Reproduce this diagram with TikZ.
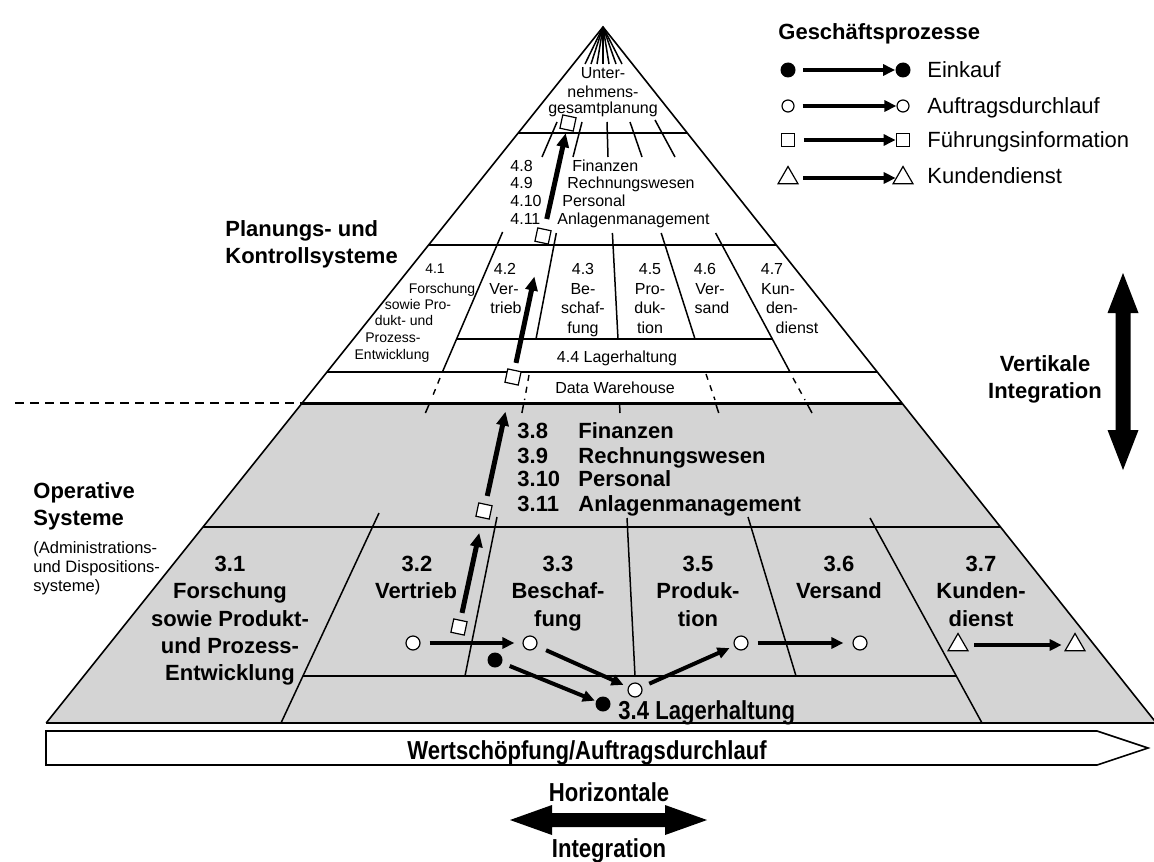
\documentclass[tikz,border=0pt]{standalone}
\usepackage{fontspec}
\setmainfont{Liberation Sans}
\newfontfamily\condbf[FakeStretch=0.85]{Liberation Sans}
\usetikzlibrary{arrows.meta,shapes.geometric}

\begin{document}
\begin{tikzpicture}[x=0.5pt,y=-0.5pt,
  ln/.style={line width=0.75pt},
  lbl/.style={font=\fontsize{11}{13}\selectfont\bfseries, inner sep=0pt, anchor=base},
  lblw/.style={lbl, anchor=base west},
  stxt/.style={font=\fontsize{8}{9}\selectfont, inner sep=0pt, anchor=base},
  stxtw/.style={stxt, anchor=base west},
  xtxt/.style={font=\fontsize{7}{8}\selectfont, inner sep=0pt, anchor=base},
  leg/.style={font=\fontsize{11}{13}\selectfont, inner sep=0pt, anchor=base west},
  ctxt/.style={font=\fontsize{13}{15}\condbf\bfseries, inner sep=0pt, anchor=base},
  opn/.style={circle, draw, fill=white, line width=0.6pt, minimum size=7pt, inner sep=0pt},
  ful/.style={circle, fill=black, minimum size=7.5pt, inner sep=0pt},
  sqr/.style={rectangle, draw, fill=white, line width=0.6pt, minimum size=6.8pt, inner sep=0pt},
  trg/.style={regular polygon, regular polygon sides=3, draw, fill=white, line width=0.6pt, minimum size=11.5pt, inner sep=0pt},
  pflow/.style={line width=2pt, -{Triangle[length=6pt,width=5.5pt]}},
  upflow/.style={line width=2.5pt, -{Triangle[length=7pt,width=6pt]}},
  dwdash/.style={line width=0.7pt, dash pattern=on 3pt off 3pt},
]
\useasboundingbox (0,0) rectangle (1154,861);
\fill[white] (0,0) rectangle (1154,861);

% ---------- pyramid body ----------
\coordinate (apex) at (603,27);
\coordinate (bl) at (46.2,723);
\coordinate (br) at (1156.3,723);

\begin{scope}
  \clip (apex) -- (bl) -- (br) -- cycle;
  \fill[black!17] (0,403) rectangle (1160,723);
  \draw[ln] (0,133) -- (1160,133);
  \draw[ln] (0,245) -- (1160,245);
  \draw[ln] (0,372) -- (1160,372);
  \draw[ln] (0,527) -- (1160,527);
  \draw[line width=1.5pt] (0,403) -- (1160,403);
\end{scope}
\draw[line width=0.8pt] (bl) -- (apex) -- (br);
\draw[line width=1pt] (bl) -- (br);

% boundary between planning and operative systems
\draw[line width=0.75pt, dash pattern=on 4.5pt off 3pt] (15,403) -- (302,403);

% fan at the apex
\foreach \x in {585,591,597,603,609,616,622}
  \draw[ln] (apex) -- (\x,64);

% strokes across the line below the corporate planning
\draw[ln] (557,122) -- (542,157);
\draw[ln] (582,122) -- (573,157);
\draw[ln] (607,122) -- (608,157);
\draw[ln] (630,122) -- (642,157);
\draw[ln] (655,120) -- (675,157);

% columns of the planning level
\draw[ln] (502.6,232) -- (442.4,372);
\draw[ln] (556.3,233) -- (536,339);
\draw[ln] (612.4,233) -- (618,339);
\draw[ln] (661.2,233) -- (695,339);
\draw[ln] (715.6,233) -- (790,372);
\draw[ln] (456.6,339) -- (772.3,339);

% column traces through the data warehouse
\draw[dwdash] (440,378) -- (431,400);
\draw[dwdash] (529,375) -- (524.5,400);
\draw[dwdash] (706,374) -- (715,400);
\draw[dwdash] (793,378) -- (805,400);
\draw[ln] (429.7,403) -- (425.4,413);
\draw[ln] (523.8,403) -- (521.9,413);
\draw[ln] (619.5,403) -- (620,413);
\draw[ln] (715.5,403) -- (718.7,413);
\draw[ln] (806.6,403) -- (812,413);

% columns of the operative level
\draw[ln] (379,513) -- (281,723);
\draw[ln] (497,517) -- (465,676);
\draw[ln] (627,518) -- (635,676);
\draw[ln] (748,517) -- (796,676);
\draw[ln] (870,518) -- (982,723);
\draw[ln] (303,676) -- (956.8,676);

% ---------- texts of the planning level ----------
\node[stxt] (u1) at (603,79) {Unter-};
\node[stxt] (u2) at (603,97.5) {nehmens-};
\node[stxt] (u3) at (603,114) {gesamtplanung};

\node[stxtw] (n48) at (510,171) {4.8};
\node[stxtw] (n49) at (510,189) {4.9};
\node[stxtw] (n410) at (510,206) {4.10};
\node[stxtw] (n411) at (510,224) {4.11};
\node[stxtw] (f48) at (572,171) {Finanzen};
\node[stxtw] (f49) at (567,189) {Rechnungswesen};
\node[stxtw] (f410) at (562,206) {Personal};
\node[stxtw] (f411) at (557,224) {Anlagenmanagement};

\node[xtxt] (a41) at (435,273) {4.1};
\node[xtxt] (b41) at (442,293) {Forschung};
\node[xtxt] (c41) at (418,309) {sowie Pro-};
\node[xtxt] (d41) at (404,325) {dukt- und};
\node[xtxt] (e41) at (393,342) {Prozess-};
\node[xtxt] (f41) at (392,359) {Entwicklung};

\node[stxt] (a42) at (505,274) {4.2};
\node[stxt] (b42) at (504,294) {Ver-};
\node[stxt] (c42) at (506,313.5) {trieb};

\node[stxt] (a43) at (583,274) {4.3};
\node[stxt] (b43) at (583,294) {Be-};
\node[stxt] (c43) at (583,313.5) {schaf-};
\node[stxt] (d43) at (583,333) {fung};

\node[stxt] (a45) at (650,274) {4.5};
\node[stxt] (b45) at (650,294) {Pro-};
\node[stxt] (c45) at (650,313.5) {duk-};
\node[stxt] (d45) at (650,333) {tion};

\node[stxt] (a46) at (705,274) {4.6};
\node[stxt] (b46) at (710,294) {Ver-};
\node[stxt] (c46) at (712,313.5) {sand};

\node[stxt] (a47) at (772,274) {4.7};
\node[stxt] (b47) at (778,294) {Kun-};
\node[stxt] (c47) at (782,313.5) {den-};
\node[stxt] (d47) at (797,333) {dienst};

\node[stxt] (lag4) at (617,362) {4.4 Lagerhaltung};
\node[stxt] (dwh) at (615,393) {Data Warehouse};

% ---------- texts of the operative level ----------
\node[lblw] (n38) at (517,438) {3.8};
\node[lblw] (n39) at (517,463) {3.9};
\node[lblw] (n310) at (517,486) {3.10};
\node[lblw] (n311) at (517,511) {3.11};
\node[lblw] (f38) at (578,438) {Finanzen};
\node[lblw] (f39) at (578,463) {Rechnungswesen};
\node[lblw] (f310) at (578,486) {Personal};
\node[lblw] (f311) at (578,511) {Anlagenmanagement};

\node[lbl] (a31) at (230,571) {3.1};
\node[lbl] (b31) at (230,598) {Forschung};
\node[lbl] (c31) at (230,626) {sowie Produkt-};
\node[lbl] (d31) at (230,653) {und Prozess-};
\node[lbl] (e31) at (230,680) {Entwicklung};

\node[lbl] (a32) at (417,571) {3.2};
\node[lbl] (b32) at (416,598) {Vertrieb};

\node[lbl] (a33) at (558,571) {3.3};
\node[lbl] (b33) at (558,598) {Beschaf-};
\node[lbl] (c33) at (558,626) {fung};

\node[lbl] (a35) at (698,571) {3.5};
\node[lbl] (b35) at (698,598) {Produk-};
\node[lbl] (c35) at (698,626) {tion};

\node[lbl] (a36) at (839,571) {3.6};
\node[lbl] (b36) at (839,598) {Versand};

\node[lbl] (a37) at (981,571) {3.7};
\node[lbl] (b37) at (981,598) {Kunden-};
\node[lbl] (c37) at (981,626) {dienst};

\node[ctxt, anchor=base west] (lag3) at (618,719) {3.4 Lagerhaltung};

% ---------- process flows ----------
\node[sqr, rotate=-12] (s1) at (459,627) {};
\node[sqr, rotate=-12] (s2) at (484,511) {};
\node[sqr, rotate=-12] (s3) at (513,377) {};
\node[sqr, rotate=-12] (s4) at (543,236) {};
\node[sqr, rotate=-12] (s5) at (568,123) {};
\draw[upflow, shorten <=3.5pt, shorten >=7.5pt] (s1) -- (s2);
\draw[upflow, shorten <=4pt, shorten >=14pt] (s2) -- (s3);
\draw[upflow, shorten <=3.5pt, shorten >=17pt] (s3) -- (s4);
\draw[upflow, shorten <=5pt, shorten >=1.5pt] (s4) -- (s5);

\node[opn] (c1) at (413,643) {};
\node[opn] (c2) at (530,643) {};
\node[opn] (c3) at (635,690) {};
\node[opn] (c4) at (741,643) {};
\node[opn] (c5) at (860,643) {};
\node[ful] (b1) at (495,660) {};
\node[ful] (b2) at (603,704) {};
\node[trg] (t1) at (958,645) {};
\node[trg] (t2) at (1075,645) {};

\draw[pflow, shorten <=4.5pt, shorten >=4pt] (c1) -- (c2);
\draw[pflow, shorten <=5pt, shorten >=2.5pt] (c2) -- (c3);
\draw[pflow, shorten <=4pt, shorten >=0.5pt] (b1) -- (b2);
\draw[pflow, shorten <=4pt, shorten >=2.5pt] (c3) -- (c4);
\draw[pflow, shorten <=4.5pt, shorten >=4.5pt] (c4) -- (c5);
\draw[pflow, shorten <=4.5pt, shorten >=3pt] (t1) -- (t2);

% ---------- legend ----------
\node[lblw] (legt) at (778,40) {Geschäftsprozesse};
\node[ful] (le1) at (788,70) {};
\node[ful] (le2) at (903,70) {};
\node[leg] (let) at (927,78) {Einkauf};
\node[opn, minimum size=6pt] (lo1) at (788,106) {};
\node[opn, minimum size=6pt] (lo2) at (903,106) {};
\node[leg] (lot) at (927,114) {Auftragsdurchlauf};
\node[sqr] (ls1) at (788,140) {};
\node[sqr] (ls2) at (903,140) {};
\node[leg] (lst) at (927,148) {Führungsinformation};
\node[trg] (lt1) at (788,178) {};
\node[trg] (lt2) at (903,178) {};
\node[leg] (ltt) at (927,184) {Kundendienst};
\draw[pflow, shorten <=3.75pt, shorten >=0pt] (le1) -- (le2);
\draw[pflow, shorten <=4pt, shorten >=0pt] (lo1) -- (lo2);
\draw[pflow, shorten <=4.25pt, shorten >=0pt] (ls1) -- (ls2);
\draw[pflow, shorten <=4pt, shorten >=0pt] (lt1) -- (lt2);

% ---------- side labels ----------
\node[lblw] (pk1) at (225,236) {Planungs- und};
\node[lblw] (pk2) at (225,263) {Kontrollsysteme};
\node[lblw] (os1) at (33,498) {Operative};
\node[lblw] (os2) at (33,525) {Systeme};
\node[font=\fontsize{8.25}{9.5}\selectfont, inner sep=0pt, anchor=base west] (ad1) at (33,553) {(Administrations-};
\node[font=\fontsize{8.25}{9.5}\selectfont, inner sep=0pt, anchor=base west] (ad2) at (33,572) {und Dispositions-};
\node[font=\fontsize{8.25}{9.5}\selectfont, inner sep=0pt, anchor=base west] (ad3) at (33,591) {systeme)};

% vertical integration
\node[lbl] (vi1) at (1045,371) {Vertikale};
\node[lbl] (vi2) at (1045,398) {Integration};
\fill (1123,273) -- (1138.5,313) -- (1130.5,313) -- (1130.5,430) -- (1138.5,430)
  -- (1123,470) -- (1107.5,430) -- (1115.5,430) -- (1115.5,313) -- (1107.5,313) -- cycle;

% value chain
\draw[line width=0.8pt, fill=white] (46,731) -- (1097,731) -- (1148,748) -- (1097,765) -- (46,765) -- cycle;
\node[ctxt] (ws) at (587,759) {Wertschöpfung/Auftragsdurchlauf};

% horizontal integration
\node[ctxt] (hi1) at (609,801) {Horizontale};
\node[ctxt] (hi2) at (609,857) {Integration};
\fill (510,820) -- (552,805) -- (552,813) -- (665,813) -- (665,805) -- (707,820)
  -- (665,835) -- (665,827) -- (552,827) -- (552,835) -- cycle;
\end{tikzpicture}
\end{document}
